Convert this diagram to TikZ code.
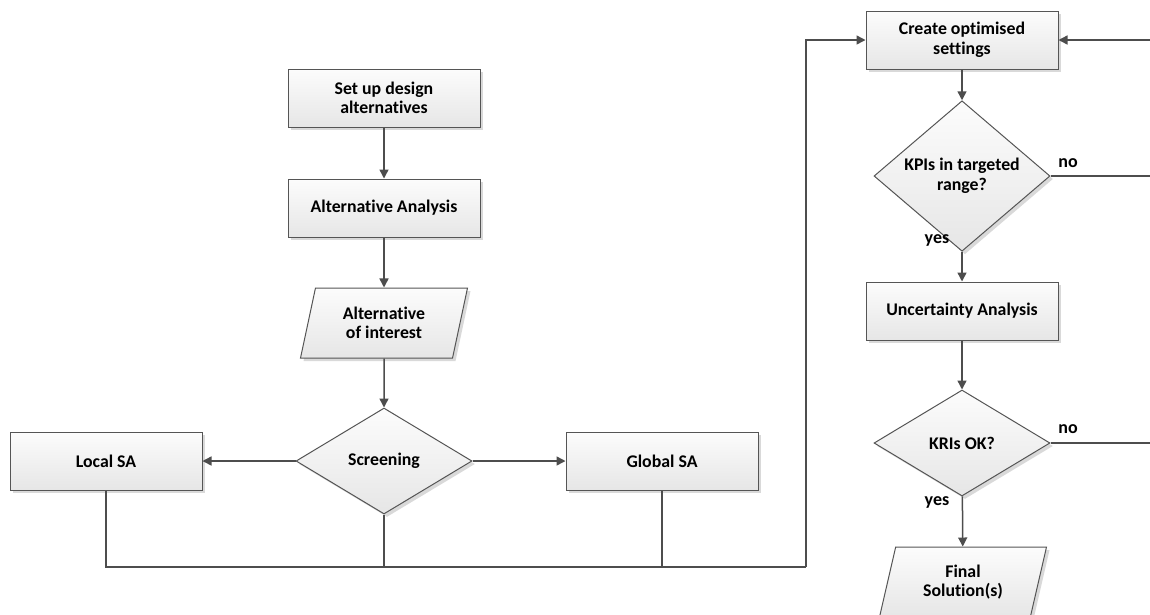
\documentclass[tikz,border=0pt]{standalone}
\usepackage{fontspec}
\setmainfont{Carlito}[Ligatures=NoCommon]
\usetikzlibrary{shapes.geometric,arrows.meta,shadows}

\definecolor{linegray}{HTML}{4D4D4D}
\definecolor{edgegray}{HTML}{555555}
\definecolor{fillhi}{HTML}{FCFCFC}
\definecolor{filllo}{HTML}{E6E6E6}
\definecolor{shadowgray}{HTML}{D9D9D9}

\tikzset{
  shapebase/.style={draw=edgegray, line width=1pt, top color=fillhi, bottom color=filllo,
    drop shadow={shadow xshift=3pt, shadow yshift=-3pt, fill=shadowgray, opacity=1},
    font=\fontsize{17.8}{19.5}\selectfont\bfseries, align=center, text=black},
  procbox/.style={shapebase, rectangle, minimum width=192pt, minimum height=58pt, inner sep=0pt},
  decision/.style={shapebase, diamond, minimum width=176pt, minimum height=106pt, inner sep=0pt},
  iobox/.style={shapebase, trapezium, trapezium left angle=65, trapezium right angle=115,
    trapezium stretches body=true, minimum width=167pt, minimum height=70pt, inner sep=0pt},
  flow/.style={draw=linegray, line width=1.5pt},
  arrowflow/.style={flow, -{Triangle[length=9pt,width=9pt]}},
  branchlabel/.style={font=\fontsize{18}{20}\selectfont\bfseries, text=black, inner sep=0pt}
}

\begin{document}
\begin{tikzpicture}[x=1pt,y=-1pt]
  \clip (0,0) rectangle (1150,614);
  \useasboundingbox (0,0) rectangle (1150,614);

  % left column
  \node[procbox] (setup) at (384,98) {Set up design\\alternatives};
  \node[procbox] (altan) at (384,208) {Alternative Analysis};
  \node[iobox]   (altint) at (384,323) {Alternative\\of interest};
  \node[decision] (screen) at (384,461) {Screening};
  \node[procbox] (local) at (106,461) {Local SA};
  \node[procbox] (global) at (662,461) {Global SA};

  % right column
  \node[procbox] (create) at (962,40) {Create optimised\\settings};
  \node[decision] (kpi) at (962,176) {KPIs in targeted\\range?};
  \node[procbox] (uncert) at (962,311) {Uncertainty Analysis};
  \node[decision] (kri) at (962,443) {KRIs OK?};
  \node[iobox]   (final) at (963,582) {Final\\Solution(s)};

  % junction points of the collector line and the loose ends at the border
  \coordinate (join) at (806,567);
  \coordinate (kpiout) at (1152,176);
  \coordinate (kriout) at (1152,443);
  \coordinate (loopin) at (1152,40);

  % connectors
  \draw[arrowflow] (setup) -- (altan);
  \draw[arrowflow] (altan) -- (altint);
  \draw[arrowflow] (altint) -- (screen);
  \draw[arrowflow] (screen) -- (local);
  \draw[arrowflow] (screen) -- (global);

  \draw[flow] (local.south) |- (join);
  \draw[flow] (screen.south) -- (screen.south |- join);
  \draw[flow] (global.south) -- (global.south |- join);
  \draw[arrowflow] (join) |- (create.west);

  \draw[arrowflow] (create) -- (kpi);
  \draw[arrowflow] (kpi) -- (uncert);
  \draw[arrowflow] (uncert) -- (kri);
  \draw[arrowflow] (kri) -- (final);

  \draw[flow] (kpi.east) -- (kpiout);
  \draw[flow] (kri.east) -- (kriout);
  \draw[arrowflow] (loopin) -- (create.east);

  % branch labels
  \node[branchlabel] (kpino) at (1068,163) {no};
  \node[branchlabel] (kpiyes) at (937,240) {yes};
  \node[branchlabel] (krino) at (1068,429) {no};
  \node[branchlabel] (kriyes) at (937,502) {yes};
\end{tikzpicture}
\end{document}
